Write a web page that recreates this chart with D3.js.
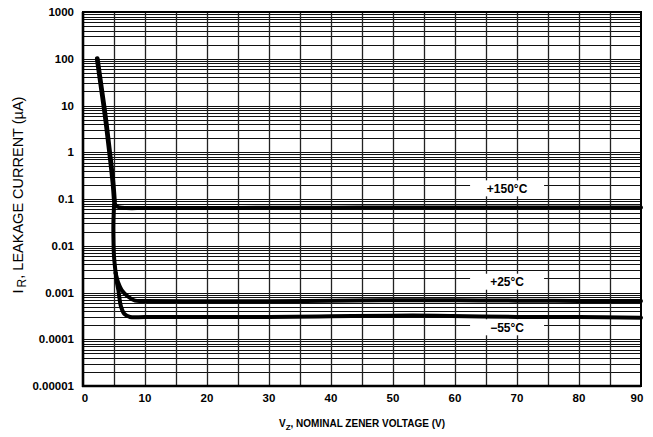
<!DOCTYPE html>
<html>
<head>
<meta charset="utf-8">
<script src="https://cdn.jsdelivr.net/npm/d3@7"></script>
<style>
  html, body { margin: 0; padding: 0; background: #fff; }
  svg { display: block; font-family: "Liberation Sans", Arial, sans-serif; }
</style>
</head>
<body>
<svg id="chart" width="653" height="437"></svg>
<script>
// ---- data ----
const xTicks = [0, 10, 20, 30, 40, 50, 60, 70, 80, 90];
const yTicks = [1e-5, 1e-4, 1e-3, 1e-2, 1e-1, 1, 10, 100, 1000];
const yTickLabels = ["0.00001", "0.0001", "0.001", "0.01", "0.1", "1", "10", "100", "1000"];

// common steep (breakdown) region
const steepV = [2.3, 2.85, 3.6, 4.25, 4.84, 5.05];
const steepI = [100, 30, 5.8, 1.12, 0.22, 0.095];
// +150°C plateau
const hot150V = [5.05, 5.3, 5.9, 7, 10, 20, 30, 40, 50, 60, 70, 80, 90];
const hot150I = [0.095, 0.072, 0.066, 0.064, 0.064, 0.064, 0.065, 0.065, 0.066, 0.066, 0.066, 0.066, 0.066];
// shared drop for +25°C and -55°C
const dropV = [5.05, 4.9, 4.92, 5.0, 5.27];
const dropI = [0.095, 0.03, 0.012, 0.0059, 0.0026];
// +25°C plateau
const room25V = [5.27, 5.7, 6.24, 7.3, 8.4, 10, 20, 30, 40, 50, 60, 70, 80, 90];
const room25I = [0.0026, 0.0016, 0.00113, 0.00081, 0.00067, 0.00066, 0.00065, 0.00065, 0.00067, 0.00068, 0.00068, 0.00067, 0.00066, 0.00066];
// -55°C plateau
const cold55V = [5.27, 5.45, 5.7, 6.13, 6.66, 7.6, 10, 20, 30, 40, 50, 57, 70, 80, 90];
const cold55I = [0.0026, 0.0017, 0.00113, 0.0005, 0.00035, 0.0003, 0.0003, 0.0003, 0.0003, 0.00031, 0.00032, 0.00032, 0.0003, 0.0003, 0.00029];

const curveLabels = ["+150°C", "+25°C", "\u221255°C"];
const labelV = [68.4, 68.4, 68.4];
const labelI = [0.169, 0.0017, 0.00018];

// ---- layout ----
const svg = d3.select("#chart");
const L = 83, R = 641, T = 12, B = 386;
const x = d3.scaleLinear().domain([0, 90]).range([L, R]);
const y = d3.scaleLog().domain([1e-5, 1000]).range([B, T]);

// horizontal grid (log decades + minor)
const hGrid = [];
for (let e = -5; e < 3; e++) {
  for (let m = 1; m <= 9; m++) hGrid.push(m * Math.pow(10, e));
}
hGrid.push(1000);
svg.append("g").selectAll("line").data(hGrid).join("line")
  .attr("x1", L).attr("x2", R)
  .attr("y1", d => Math.round(y(d)) + 0.5).attr("y2", d => Math.round(y(d)) + 0.5)
  .attr("stroke", "#111").attr("stroke-width", 1.1);

// vertical grid every 5 V
const vGrid = d3.range(5, 90, 5);
svg.append("g").selectAll("line").data(vGrid).join("line")
  .attr("y1", T).attr("y2", B)
  .attr("x1", d => Math.round(x(d)) + 0.5).attr("x2", d => Math.round(x(d)) + 0.5)
  .attr("stroke", "#222").attr("stroke-width", 1.3);

// label boxes (white) covering the grid
const boxW = 74, boxH = 16;
svg.append("g").selectAll("rect").data(curveLabels).join("rect")
  .attr("x", (d, i) => x(labelV[i]) - boxW / 2)
  .attr("y", (d, i) => y(labelI[i]) - boxH / 2)
  .attr("width", boxW).attr("height", boxH)
  .attr("fill", "#fff");

// frame
svg.append("rect").attr("x", L).attr("y", T).attr("width", R - L).attr("height", B - T)
  .attr("fill", "none").attr("stroke", "#000").attr("stroke-width", 2);
svg.append("line").attr("x1", L).attr("x2", L).attr("y1", T).attr("y2", B + 1)
  .attr("stroke", "#000").attr("stroke-width", 2.6);
svg.append("line").attr("x1", L - 1).attr("x2", R).attr("y1", B).attr("y2", B)
  .attr("stroke", "#000").attr("stroke-width", 2.6);

// curves
const line = d3.line()
  .x(d => x(d[0])).y(d => y(d[1]))
  .curve(d3.curveCatmullRom.alpha(0.5));
const zip = (a, b) => a.map((v, i) => [v, b[i]]);
const series = [
  zip(steepV, steepI),
  zip(hot150V, hot150I),
  zip(dropV, dropI),
  zip(room25V, room25I),
  zip(cold55V, cold55I)
];
svg.append("g").selectAll("path").data(series).join("path")
  .attr("d", line)
  .attr("fill", "none").attr("stroke", "#000")
  .attr("stroke-width", (d, i) => i === 0 ? 4.8 : 4)
  .attr("stroke-linecap", "round").attr("stroke-linejoin", "round");

// curve labels
svg.append("g").selectAll("text").data(curveLabels).join("text")
  .attr("x", (d, i) => x(labelV[i]))
  .attr("y", (d, i) => y(labelI[i]))
  .attr("dy", "0.35em")
  .attr("text-anchor", "middle")
  .attr("font-size", 12).attr("font-weight", "bold")
  .text(d => d);

// y tick labels
svg.append("g").selectAll("text").data(yTicks).join("text")
  .attr("x", L - 9)
  .attr("y", d => y(d))
  .attr("dy", "0.35em")
  .attr("text-anchor", "end")
  .attr("font-size", 11.5).attr("font-weight", "bold")
  .text((d, i) => yTickLabels[i]);

// x tick labels
svg.append("g").selectAll("text").data(xTicks).join("text")
  .attr("x", d => x(d) + (d === 0 ? 2 : (d === 90 ? -4 : 0)))
  .attr("y", 402)
  .attr("text-anchor", "middle")
  .attr("font-size", 11.5).attr("font-weight", "bold")
  .text(d => d);

// x axis title
const xt = svg.append("text")
  .attr("x", 362).attr("y", 427)
  .attr("text-anchor", "middle")
  .attr("font-size", 10).attr("font-weight", "bold");
xt.append("tspan").text("V");
xt.append("tspan").attr("font-size", 8).attr("dy", 3).text("Z");
xt.append("tspan").attr("dy", -3).text(", NOMINAL ZENER VOLTAGE (V)");

// y axis title
const yt = svg.append("text")
  .attr("transform", "translate(23,195) rotate(-90)")
  .attr("text-anchor", "middle")
  .attr("font-size", 14.5);
yt.append("tspan").text("I");
yt.append("tspan").attr("font-size", 12).attr("dy", 3).attr("dx", 2).text("R");
yt.append("tspan").attr("dy", -3).text(", LEAKAGE CURRENT (\u00b5A)");
</script>
</body>
</html>
